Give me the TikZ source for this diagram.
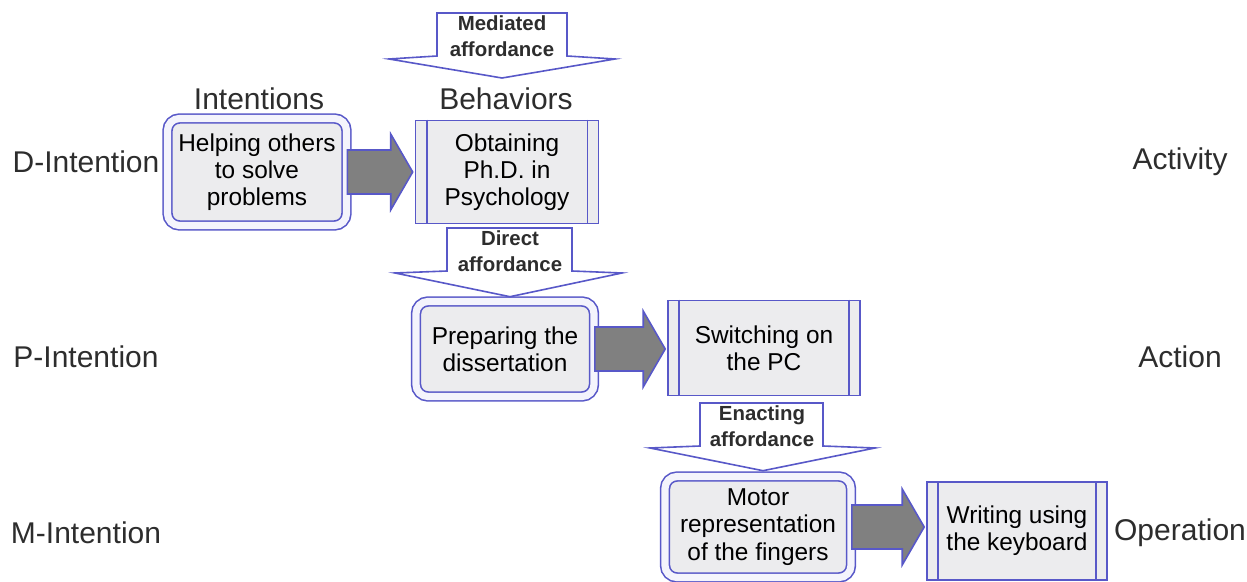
\documentclass[tikz,border=0pt]{standalone}
\usepackage{fontspec}
\setmainfont{Liberation Sans}
\usetikzlibrary{calc}
\definecolor{bcol}{RGB}{88,88,200}
\definecolor{boxfill}{RGB}{236,236,238}
\definecolor{gapfill}{RGB}{244,244,252}
\definecolor{arrgray}{RGB}{128,128,128}
\definecolor{labcol}{RGB}{45,45,45}
\tikzset{
  lab/.style={font=\fontsize{15}{17}\selectfont, inner sep=0pt, text=labcol},
  head/.style={font=\fontsize{15}{17}\selectfont, inner sep=0pt, text=labcol},
  txt/.style={font=\fontsize{12.2}{13.6}\selectfont, align=center},
  intbox/.style={txt, draw=bcol, line width=0.8pt, double=gapfill, double distance=3.6pt,
     rounded corners=6pt, fill=boxfill, inner sep=0pt},
  behbox/.style={txt, draw=bcol, line width=0.8pt, fill=boxfill, inner sep=0pt},
  afftxt/.style={font=\fontsize{10.2}{13.2}\selectfont\bfseries, align=center, inner sep=0pt, text=labcol},
  affarrow/.style={draw=bcol, line width=0.8pt, fill=white, line join=miter},
  garrow/.style={draw=bcol, line width=0.8pt, fill=arrgray, line join=miter}
}
\newcommand{\procbars}[1]{%
  \draw[bcol, line width=0.8pt] ([xshift=6pt]#1.north west) -- ([xshift=6pt]#1.south west);
  \draw[bcol, line width=0.8pt] ([xshift=-6pt]#1.north east) -- ([xshift=-6pt]#1.south east);}
% gray block arrow from node #1 to node #2
\newcommand{\grayarrow}[2]{%
  \path[garrow] ($(#1.east)+(0,-22)$) -- ($(#2.west |- #1.east)+(-24,-22)$)
    -- ($(#2.west |- #1.east)+(-24,-38)$) -- ($(#2.west |- #1.east)+(-2,0)$)
    -- ($(#2.west |- #1.east)+(-24,38)$) -- ($(#2.west |- #1.east)+(-24,22)$)
    -- ($(#1.east)+(0,22)$) -- cycle;}
\begin{document}
\begin{tikzpicture}[x=0.5pt,y=-0.5pt]
\useasboundingbox (0,0) rectangle (1247,582);
% row labels
\node[lab] (dint) at (86,162) {D-Intention};
\node[lab] (pint) at (86,357) {P-Intention};
\node[lab] (mint) at (86,533) {M-Intention};
\node[lab] (act) at (1180,162) {Activity};
\node[lab] (acn) at (1180,357) {Action};
\node[lab] (ope) at (1180,533) {Operation};
% column headings
\node[head] (hint) at (259,99) {Intentions};
\node[head] (hbeh) at (506,99) {Behaviors};
% boxes
\node[intbox, minimum width=89.5pt, minimum height=53.5pt] (help) at (257,172)
  {Helping others\\to solve\\problems};
\node[behbox, minimum width=91.5pt, minimum height=51.5pt] (obt) at (507,172)
  {Obtaining\\Ph.D. in\\Psychology};
\node[intbox, minimum width=89pt, minimum height=47.5pt] (prep) at (505,349)
  {Preparing the\\dissertation};
\node[behbox, minimum width=96pt, minimum height=47.5pt] (swi) at (764,348)
  {Switching on\\the PC};
\node[intbox, minimum width=93pt, minimum height=50.5pt] (mot) at (758,527)
  {Motor\\representation\\of the fingers};
\node[behbox, minimum width=90pt, minimum height=49pt] (wri) at (1017,531)
  {Writing using\\the keyboard};
\procbars{obt}
\procbars{swi}
\procbars{wri}
% gray block arrows
\grayarrow{help}{obt}
\grayarrow{prep}{swi}
\grayarrow{mot}{wri}
% affordance arrows
\coordinate (med) at (502,36);
\coordinate (dir) at (510,251);
\coordinate (ena) at (762,426);
\path[affarrow] ($(med)+(-65,-23)$) -- ($(med)+(-65,20)$) -- ($(med)+(-113,23)$)
  -- ($(med)+(0,42)$) -- ($(med)+(113,23)$) -- ($(med)+(65,20)$) -- ($(med)+(65,-23)$) -- cycle;
\node[afftxt] (medt) at (med) {Mediated\\affordance};
\path[affarrow] ($(dir)+(-63,-23)$) -- ($(dir)+(-63,20)$) -- ($(dir)+(-115,22)$)
  -- ($(prep.north)+(5,-4)$) -- ($(dir)+(112,22)$) -- ($(dir)+(62,20)$) -- ($(dir)+(62,-23)$) -- cycle;
\node[afftxt] (dirt) at (dir) {Direct\\affordance};
\path[affarrow] ($(ena)+(-62,-23)$) -- ($(ena)+(-62,20)$) -- ($(ena)+(-112,22)$)
  -- ($(mot.north)+(5,-5)$) -- ($(ena)+(113,22)$) -- ($(ena)+(61,20)$) -- ($(ena)+(61,-23)$) -- cycle;
\node[afftxt] (enat) at (ena) {Enacting\\affordance};
\end{tikzpicture}
\end{document}
